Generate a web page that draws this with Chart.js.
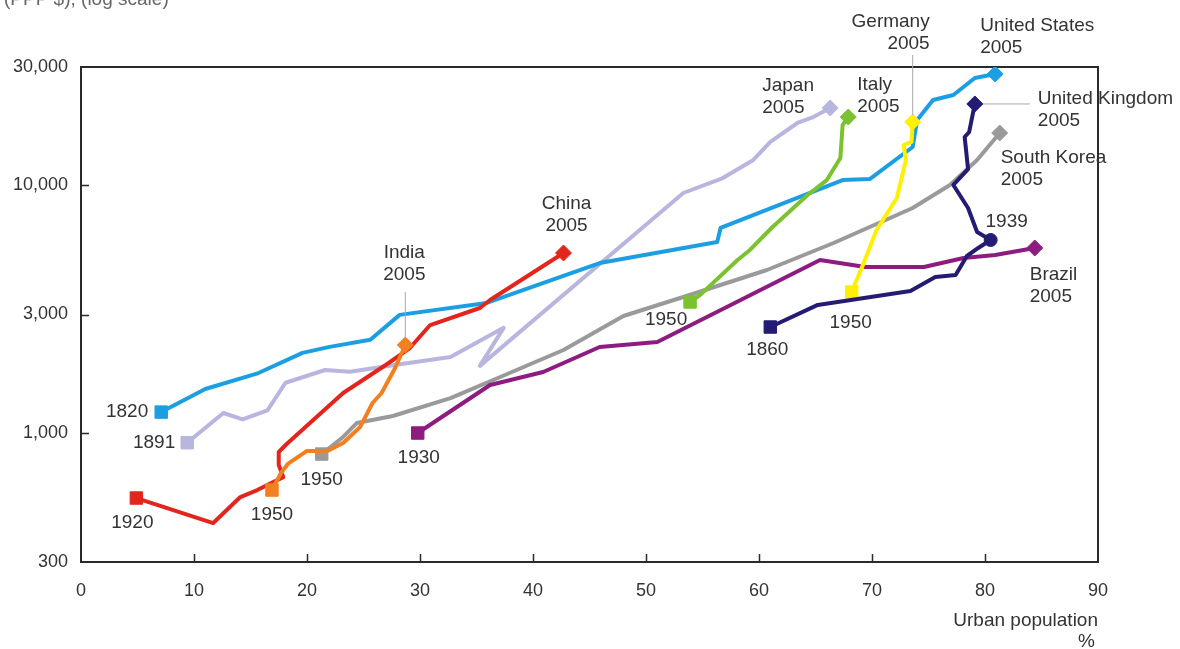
<!DOCTYPE html>
<html>
<head>
<meta charset="utf-8">
<script src="https://cdn.jsdelivr.net/npm/chart.js@4.4.1/dist/chart.umd.min.js"></script>
<style>
  html, body { margin: 0; padding: 0; background: #fff; }
  #wrap { width: 1180px; height: 649px; position: relative; }
</style>
</head>
<body>
<div id="wrap"><canvas id="c" width="1180" height="649"></canvas></div>
<script>
// Axis ticks
const xTicks = [0, 10, 20, 30, 40, 50, 60, 70, 80, 90];
const yTicks = [300, 1000, 3000, 10000, 30000];

// Urban population share (%) against GDP per capita (PPP $), one pair of arrays per country
const ukUrban = [61.0, 65.2, 73.4, 75.6, 77.4, 78.4, 79.4, 80.5, 79.3, 78.5, 77.2, 78.5, 78.2, 78.6, 79.1];
const ukGdp   = [2670, 3280, 3730, 4250, 4330, 5170, 5570, 6000, 6460, 8080, 10010, 11610, 15640, 16390, 21270];

const germanyUrban = [68.2, 69.2, 70.4, 72.2, 73.0, 72.8, 73.5, 73.6];
const germanyGdp   = [3700, 4760, 6580, 8870, 12630, 14520, 14940, 17990];

const italyUrban = [53.9, 54.8, 58.1, 59.2, 61.2, 64.3, 66.0, 67.2, 67.4, 67.9];
const italyGdp   = [3370, 3600, 4980, 5470, 6770, 9120, 10480, 12870, 17490, 18840];

const indiaUrban = [16.9, 17.7, 18.3, 20.0, 21.8, 23.2, 24.7, 25.8, 26.6, 27.8, 28.7];
const indiaGdp   = [586, 687, 747, 843, 843, 908, 1053, 1317, 1445, 1824, 2259];

const chinaUrban = [4.9, 11.7, 14.1, 15.6, 17.9, 17.5, 17.5, 18.2, 23.2, 27.1, 29.1, 30.9, 35.3, 36.2, 42.7];
const chinaGdp   = [544, 431, 549, 586, 661, 740, 835, 899, 1445, 1893, 2196, 2720, 3187, 3433, 5317];

const usUrban = [7.1, 11.0, 15.7, 19.6, 22.0, 25.6, 28.2, 35.9, 45.9, 56.3, 56.6, 67.4, 69.8, 73.6, 74.0, 75.4, 77.2, 79.1, 80.9];
const usGdp   = [1210, 1500, 1740, 2100, 2220, 2370, 2990, 3340, 4840, 5890, 6710, 10480, 10580, 14250, 18320, 22070, 23120, 27090, 28110];

const japanUrban = [9.4, 12.6, 14.3, 16.5, 18.1, 21.6, 23.8, 28.2, 32.7, 37.4, 35.3, 53.3, 56.8, 59.5, 61.0, 63.4, 64.8, 66.3];
const japanGdp   = [910, 1200, 1130, 1230, 1590, 1790, 1760, 1890, 2020, 2650, 1860, 9290, 10680, 12630, 14940, 17820, 18840, 20490];

const brazilUrban = [29.8, 36.2, 40.9, 45.9, 51.0, 65.4, 69.4, 74.6, 78.1, 80.9, 84.4];
const brazilGdp   = [996, 1557, 1757, 2217, 2323, 4981, 4667, 4667, 5075, 5218, 5570];

const koreaUrban = [21.3, 23.2, 24.4, 27.6, 32.7, 37.1, 42.7, 48.0, 53.3, 60.7, 66.6, 73.6, 76.9, 79.3, 81.3];
const koreaGdp   = [819, 960, 1093, 1167, 1379, 1677, 2156, 2958, 3530, 4539, 5834, 8079, 10007, 12630, 16233];

// Year at which each path starts; every path ends in 2005
const startYears = { uk: '1860', germany: '1950', italy: '1950', india: '1950', china: '1920',
                     us: '1820', japan: '1891', brazil: '1930', korea: '1950' };
const endYear = '2005';
const ukMidYear = '1939';
const ukMidIndex = 7;

const FONT = "'Liberation Sans', Arial, sans-serif";
const TEXT = '#333333';

function series(key, name, urban, gdp, color) {
  const data = urban.map((u, i) => ({ x: u, y: gdp[i] }));
  const last = data.length - 1;
  return {
    key, label: name, data,
    borderColor: color, backgroundColor: color,
    borderWidth: 4, tension: 0,
    borderJoinStyle: 'round', borderCapStyle: 'round',
    pointBorderWidth: 1, pointBorderColor: color, pointBackgroundColor: color,
    pointStyle: c => c.dataIndex === 0 ? 'rect' : (c.dataIndex === last ? 'rectRot' : 'circle'),
    pointRadius: c => {
      if (c.dataIndex === 0) return 8.8;
      if (c.dataIndex === last) return 8;
      if (key === 'uk' && c.dataIndex === ukMidIndex) return 6.5;
      return 0;
    },
    pointHoverRadius: 0
  };
}

const datasets = [
  series('uk', 'United Kingdom', ukUrban, ukGdp, '#241c72'),
  series('germany', 'Germany', germanyUrban, germanyGdp, '#fff000'),
  series('italy', 'Italy', italyUrban, italyGdp, '#7cc230'),
  series('india', 'India', indiaUrban, indiaGdp, '#f28020'),
  series('china', 'China', chinaUrban, chinaGdp, '#e2261d'),
  series('us', 'United States', usUrban, usGdp, '#1c9fe2'),
  series('japan', 'Japan', japanUrban, japanGdp, '#b8b6de'),
  series('brazil', 'Brazil', brazilUrban, brazilGdp, '#8e1c80'),
  series('korea', 'South Korea', koreaUrban, koreaGdp, '#9a9a9a')
];

// Annotations anchored to a point of a series: pixel offsets from that point
const notes = [
  { key: 'us', at: 'first', lines: [startYears.us], dx: -13, dy: 0, align: 'right' },
  { key: 'japan', at: 'first', lines: [startYears.japan], dx: -12, dy: 0, align: 'right' },
  { key: 'china', at: 'first', lines: [startYears.china], dx: -4, dy: 25, align: 'center' },
  { key: 'india', at: 'first', lines: [startYears.india], dx: 0, dy: 25, align: 'center' },
  { key: 'korea', at: 'first', lines: [startYears.korea], dx: 0, dy: 26, align: 'center' },
  { key: 'brazil', at: 'first', lines: [startYears.brazil], dx: 1, dy: 25, align: 'center' },
  { key: 'italy', at: 'first', lines: [startYears.italy], dx: -24, dy: 18, align: 'center' },
  { key: 'germany', at: 'first', lines: [startYears.germany], dx: -1, dy: 31, align: 'center' },
  { key: 'uk', at: 'first', lines: [startYears.uk], dx: -3, dy: 23, align: 'center' },
  { key: 'uk', at: ukMidIndex, lines: [ukMidYear], dx: 16, dy: -18, align: 'center' },
  { key: 'india', at: 'last', lines: ['India', endYear], dx: -1, dy: -92, align: 'center', leader: [0, -53, 0, -7] },
  { key: 'china', at: 'last', lines: ['China', endYear], dx: 3, dy: -49, align: 'center' },
  { key: 'japan', at: 'last', lines: ['Japan', endYear], dx: -68, dy: -22, align: 'left' },
  { key: 'italy', at: 'last', lines: ['Italy', endYear], dx: 9, dy: -32, align: 'left' },
  { key: 'germany', at: 'last', lines: ['Germany', endYear], dx: 17, dy: -100, align: 'right', leader: [0, -67, 0, -7] },
  { key: 'us', at: 'last', lines: ['United States', endYear], dx: -15, dy: -48, align: 'left' },
  { key: 'uk', at: 'last', lines: ['United Kingdom', endYear], dx: 63, dy: -5, align: 'left', leader: [8, 0, 55, 0] },
  { key: 'korea', at: 'last', lines: ['South Korea', endYear], dx: 1, dy: 25, align: 'left' },
  { key: 'brazil', at: 'last', lines: ['Brazil', endYear], dx: -5, dy: 27, align: 'left' }
];

// Box around the plot with inward tick marks
const framePlugin = {
  id: 'frame',
  beforeDatasetsDraw(chart) {
    const { ctx, chartArea: a, scales: { x, y } } = chart;
    ctx.save();
    ctx.strokeStyle = '#2a2a2a';
    ctx.lineWidth = 2;
    ctx.strokeRect(a.left, a.top, a.right - a.left, a.bottom - a.top);
    ctx.lineWidth = 1.5;
    ctx.beginPath();
    xTicks.slice(1, -1).forEach(v => {
      const px = Math.round(x.getPixelForValue(v)) + 0.5;
      ctx.moveTo(px, a.bottom);
      ctx.lineTo(px, a.bottom - 8);
    });
    yTicks.slice(1, -1).forEach(v => {
      const py = Math.round(y.getPixelForValue(v)) + 0.5;
      ctx.moveTo(a.left, py);
      ctx.lineTo(a.left + 8, py);
    });
    ctx.stroke();
    ctx.restore();
  }
};

// Year / country labels, leader lines and axis captions
const labelPlugin = {
  id: 'labels',
  afterDraw(chart) {
    const { ctx, chartArea: a, scales: { x, y } } = chart;
    ctx.save();
    ctx.font = '19px ' + FONT;
    ctx.fillStyle = TEXT;
    ctx.textBaseline = 'middle';
    const lineH = 22;
    notes.forEach(n => {
      const ds = chart.data.datasets.find(d => d.key === n.key);
      const idx = n.at === 'first' ? 0 : (n.at === 'last' ? ds.data.length - 1 : n.at);
      const p = ds.data[idx];
      const px = x.getPixelForValue(p.x);
      const py = y.getPixelForValue(p.y);
      if (n.leader) {
        ctx.save();
        ctx.strokeStyle = '#a8a8a8';
        ctx.lineWidth = 1;
        ctx.beginPath();
        ctx.moveTo(px + n.leader[0], py + n.leader[1]);
        ctx.lineTo(px + n.leader[2], py + n.leader[3]);
        ctx.stroke();
        ctx.restore();
      }
      ctx.textAlign = n.align;
      n.lines.forEach((t, i) => ctx.fillText(t, px + n.dx, py + n.dy + i * lineH));
    });
    // axis captions
    ctx.textAlign = 'right';
    ctx.fillText('Urban population', a.right, 621);
    ctx.fillText('%', a.right - 3, 642);
    ctx.textAlign = 'left';
    ctx.textBaseline = 'alphabetic';
    ctx.fillStyle = '#666';
    ctx.fillText('(PPP $), (log scale)', 4, 5);
    ctx.restore();
  }
};

new Chart(document.getElementById('c'), {
  type: 'line',
  data: { datasets },
  options: {
    responsive: false,
    animation: false,
    layout: { padding: { top: 67, right: 82, left: 0, bottom: 0 } },
    plugins: { legend: { display: false }, tooltip: { enabled: false } },
    scales: {
      x: {
        type: 'linear', min: 0, max: 90,
        grid: { display: false, drawTicks: false },
        border: { display: false },
        afterBuildTicks: s => { s.ticks = xTicks.map(v => ({ value: v })); },
        ticks: { padding: 18, color: TEXT, font: { size: 18, family: FONT }, autoSkip: false, maxRotation: 0 },
        afterFit: s => { s.height = 87; }
      },
      y: {
        type: 'logarithmic', min: 300, max: 30000,
        grid: { display: false, drawTicks: false },
        border: { display: false },
        afterBuildTicks: s => { s.ticks = yTicks.map(v => ({ value: v })); },
        ticks: {
          padding: 13, color: TEXT, font: { size: 18, family: FONT }, autoSkip: false,
          callback: v => Number(v).toLocaleString('en-US')
        },
        afterFit: s => { s.width = 81; }
      }
    }
  },
  plugins: [framePlugin, labelPlugin]
});
</script>
</body>
</html>
